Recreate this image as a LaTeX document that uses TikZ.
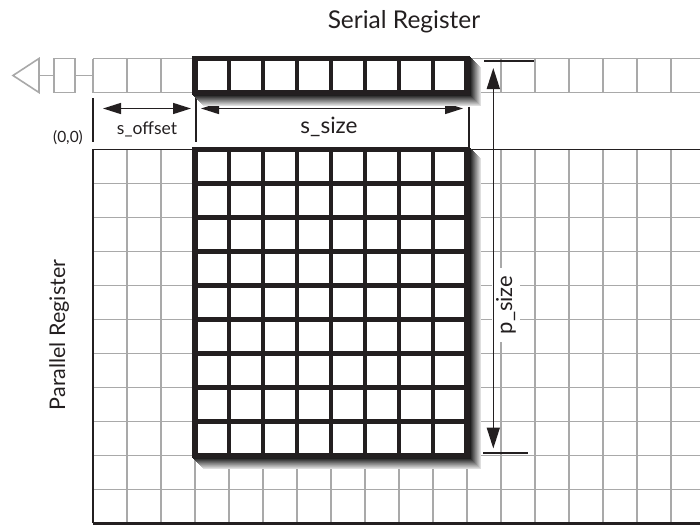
\documentclass[tikz,border=0pt]{standalone}
\usepackage{fontspec}
\setmainfont{Lato}
\usetikzlibrary{arrows.meta}
\definecolor{ink}{HTML}{231F20}
\definecolor{gridgray}{HTML}{A9A9A9}
\begin{document}
\begin{tikzpicture}[x=1pt,y=-1pt,
  gridl/.style={draw=gridgray,line width=1.6pt},
  frame/.style={draw=ink,line width=1.6pt},
  heavy/.style={draw=ink,line width=4.5pt},
  heavyframe/.style={draw=ink,line width=5.5pt},
  dimtick/.style={draw=ink,line width=1.8pt},
  dimarrow/.style={draw=ink,line width=1.5pt,{Triangle[length=18pt,width=11pt]}-{Triangle[length=18pt,width=11pt]}},
  lbl/.style={text=ink,inner sep=0pt},
]
\useasboundingbox (0,0) rectangle (700,527);
\clip (0,0) rectangle (700,527);

% ---------- parallel register grid ----------
\foreach \j in {1,...,10} \draw[gridl] (93,149.5+34*\j) -- (700,149.5+34*\j);
\foreach \i in {1,...,18} \draw[gridl] (93+34*\i,149.5) -- (93+34*\i,523);
\draw[frame] (93,523) -- (93,149.5) -- (700,149.5);
\draw[draw=ink,line width=3pt] (93,523) -- (700,523);

% ---------- serial register ----------
\draw[gridl] (93,58.5) -- (700,58.5);
\draw[gridl] (93,92.5) -- (700,92.5);
\foreach \i in {0,...,18} \draw[gridl] (93+34*\i,58.5) -- (93+34*\i,92.5);
\coordinate (boxR) at (75,75.5);
\coordinate (ser0) at (93,75.5);
\draw[gridl] (54,58.5) rectangle (75,92.5);
\draw[gridl] (boxR) -- (ser0);
\draw[gridl] (39,75.5) -- (54,75.5);
\draw[gridl,line join=miter] (39,58.5) -- (13,75.5) -- (39,92.5) -- cycle;

% ---------- dimension annotations ----------
\coordinate (tA1) at (93,98);  \coordinate (tA2) at (93,142);
\coordinate (tB1) at (196,98); \coordinate (tB2) at (196,142);
\coordinate (tC1) at (469,106.5); \coordinate (tC2) at (469,147);
\draw[dimtick] (tA1) -- (tA2);
\draw[dimtick] (tB1) -- (tB2);
\draw[dimtick] (tC1) -- (tC2);
\coordinate (soffL) at (103,108.5); \coordinate (soffR) at (191,108.5);
\draw[dimarrow] (soffL) -- (soffR);
\coordinate (ssizeL) at (201,108.5); \coordinate (ssizeR) at (463,108.5);
\draw[dimarrow] (ssizeL) -- (ssizeR);

\coordinate (pT1) at (484,61); \coordinate (pT2) at (534,61);
\coordinate (pB1) at (483,453); \coordinate (pB2) at (528,453);
\draw[dimtick] (pT1) -- (pT2);
\draw[dimtick] (pB1) -- (pB2);
\node[lbl,rotate=90,anchor=base,fill=white,inner xsep=8pt,inner ysep=4pt,
      font=\fontsize{22}{26}\selectfont] (psize) at (512,305) {p\_size};
\coordinate (psT) at (493.3,68); \coordinate (psB) at (493.3,448.5);
\draw[dimarrow,{Triangle[length=21pt,width=13pt]}-{Triangle[length=21pt,width=13pt]}] (psT) -- (psB);

% ---------- shadows ----------
\foreach \k in {11,10,...,1}{
  \pgfmathtruncatemacro\lev{88-7.5*(\k-1)}
  \fill[black!\lev] (192.25+\k,55.75+\k) rectangle (469.75+\k,95.25+\k);
  \fill[black!\lev] (192.25+\k,146.75+\k) rectangle (469.75+\k,458.25+\k);
}

% ---------- serial block ----------
\fill[white] (195,58.5) rectangle (467,92.5);
\foreach \i in {1,...,7} \draw[heavy] (195+34*\i,58.5) -- (195+34*\i,92.5);
\draw[heavyframe] (195,58.5) rectangle (467,92.5);

% ---------- parallel block ----------
\fill[white] (195,149.5) rectangle (467,455.5);
\foreach \i in {1,...,7} \draw[heavy] (195+34*\i,149.5) -- (195+34*\i,455.5);
\foreach \j in {1,...,8} \draw[heavy] (195,149.5+34*\j) -- (467,149.5+34*\j);
\draw[heavyframe] (195,149.5) rectangle (467,455.5);

% ---------- labels ----------
\node[lbl,anchor=base,font=\fontsize{24.5}{28}\selectfont] (title) at (404,28.5) {Serial Register};
\node[lbl,anchor=base,rotate=90,font=\fontsize{21.5}{26}\selectfont] (parlabel) at (65,335) {Parallel Register};
\node[lbl,anchor=base,font=\fontsize{15.5}{18}\selectfont] (origin) at (68,142) {(0,0)};
\node[lbl,anchor=base,font=\fontsize{17.5}{20}\selectfont] (soff) at (147,134) {s\_offset};
\node[lbl,anchor=base,font=\fontsize{22.5}{26}\selectfont] (ssize) at (329,133.3) {s\_size};
\end{tikzpicture}
\end{document}
